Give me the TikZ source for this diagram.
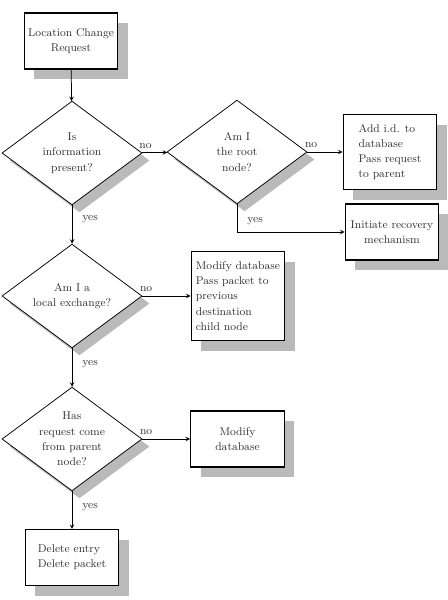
\documentclass[tikz,border=0pt]{standalone}
\usetikzlibrary{shapes.geometric,shadows}
\tikzset{
 flowfont/.style={font=\fontsize{9}{12.2}\selectfont, text=black!80},
 shadowed/.style={general shadow={fill=black!27, shadow xshift=#1, shadow yshift=-#1}},
 procbox/.style={draw, line width=0.9pt, fill=white, minimum width=75pt, minimum height=44.8pt,
   inner sep=2pt, align=center, flowfont, shadowed=8pt},
 decision/.style={draw, diamond, line width=0.6pt, fill=white, minimum width=112pt, minimum height=83pt,
   inner sep=-12pt, align=center, flowfont, shadowed=6pt},
 nolbl/.style={pos=0, above, inner sep=3pt, xshift=3pt, flowfont},
 yeslbl/.style={right, inner sep=1pt, xshift=7pt, flowfont},
}
\begin{document}
\begin{tikzpicture}[x=0.8pt, y=-0.8pt, >=stealth, line width=0.6pt]
 \useasboundingbox (0,0) rectangle (448,600);
 % boxes and decisions
 \node[procbox] (req) at (71,41) {Location Change\\Request};
 \node[decision] (info) at (72,153) {Is\\information\\present?};
 \node[decision] (root) at (237,152) {Am I\\the root\\node?};
 \node[procbox, minimum height=60pt, align=left] (addid) at (390,152) {Add i.d. to\\database\\Pass request\\to parent};
 \node[procbox] (recov) at (392,232) {Initiate recovery\\mechanism};
 \node[decision] (local) at (72,296) {Am I a\\local exchange?};
 \node[procbox, minimum height=71.2pt, align=left] (passpkt) at (238,296) {Modify database\\Pass packet to\\previous\\destination\\child node};
 \node[decision] (parent) at (72,439) {Has\\request come\\from parent\\node?};
 \node[procbox] (moddb) at (237.5,439) {Modify\\database};
 \node[procbox, align=left] (delete) at (72,557.5) {Delete entry\\Delete packet};
 % connectors
 \draw[->] (req) -- (info);
 \draw[->] (info) -- node[nolbl] {no} (root);
 \draw[->] (root) -- node[nolbl] {no} (addid);
 \draw[->] (root.south) |- node[yeslbl, pos=0.31] {yes} (recov.west);
 \draw[->] (info) -- node[yeslbl, pos=0.35] {yes} (local);
 \draw[->] (local) -- node[nolbl] {no} (passpkt);
 \draw[->] (local) -- node[yeslbl, pos=0.4] {yes} (parent);
 \draw[->] (parent) -- node[nolbl] {no} (moddb);
 \draw[->] (parent) -- node[yeslbl, pos=0.42] {yes} (delete);
\end{tikzpicture}
\end{document}
